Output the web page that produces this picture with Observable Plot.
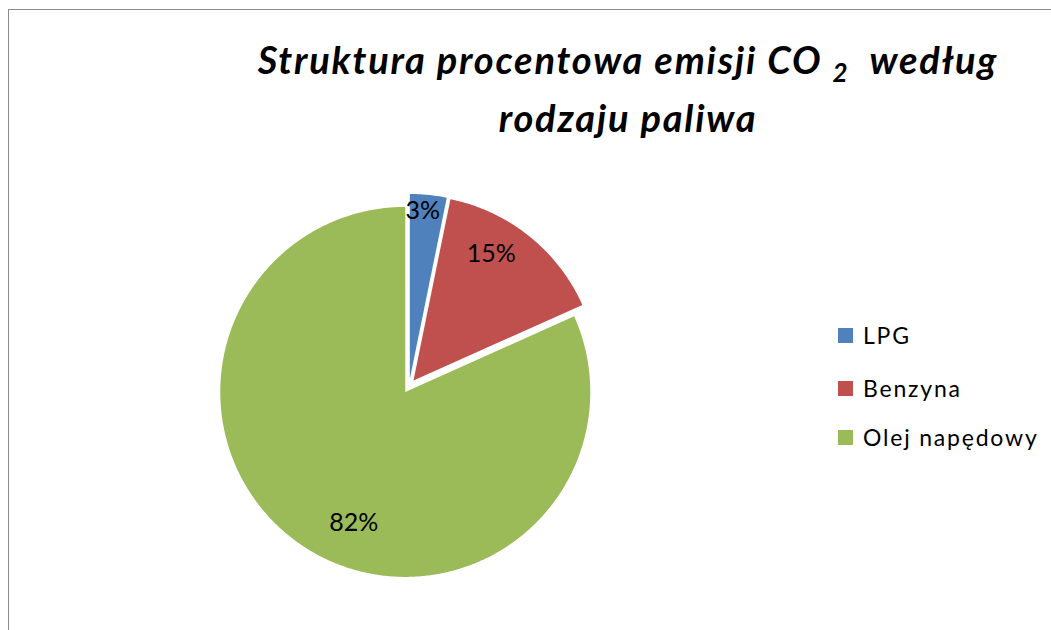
<!DOCTYPE html>
<html>
<head>
<meta charset="utf-8">
<script src="https://cdn.jsdelivr.net/npm/d3@7"></script>
<script src="https://cdn.jsdelivr.net/npm/@observablehq/plot@0.6"></script>
<style>
  body { margin: 0; background: #fff; }
  #chart { position: relative; width: 1051px; height: 630px; overflow: hidden; font-family: Lato, "Open Sans", sans-serif; background: #fff; }
  #frame { position: absolute; left: 8px; top: 9px; right: -5px; bottom: -5px; border-left: 1px solid #8c8c8c; border-top: 1px solid #8c8c8c; pointer-events: none; }
  #plot { position: absolute; left: 0; top: 0; }
  #title { position: absolute; left: 228px; width: 800px; top: 30px; text-align: center; font-weight: bold; font-style: italic; font-size: 38px; letter-spacing: 1.8px; line-height: 58px; color: #000; white-space: nowrap; }
  #title sub { font-size: 26px; vertical-align: -8px; line-height: 0; }
  .row { position: absolute; left: 838px; display: flex; align-items: center; height: 26px; font-size: 23px; letter-spacing: 1.8px; color: #000; white-space: nowrap; }
  .sw { width: 15px; height: 15px; margin-right: 10px; display: inline-block; }
</style>
</head>
<body>
<div id="chart">
  <div id="plot"></div>
  <div id="frame"></div>
  <div id="title">Struktura procentowa emisji CO <sub>2</sub>&nbsp; według<br>rodzaju paliwa</div>
  <div id="legend"></div>
</div>
<script>
// ---- data ----
const categories = ["LPG", "Benzyna", "Olej napędowy"];
const shares = [3.2, 15.1, 81.7];          // percent shares
const labels = ["3%", "15%", "82%"];       // data labels as printed
const colors = ["#4F81BD", "#C0504D", "#9BBB59"];

// ---- layout (not data) ----
const cx = 408.6, cy = 385.5, r = 185;
const explode = 0.038;
const labelPlace = [ {rf: 0.947, da: -1.3}, {rf: 0.839, da: -6.7}, {rf: 0.80, da: -11} ];
const legendTops = [322, 375, 424];

const rows = categories.map((c, i) => ({key: c, value: shares[i], label: labels[i]}));
const arcs = d3.pie().sort(null).value(d => d.value)(rows);

const pts = [];
const labelData = [];
arcs.forEach((s, i) => {
  const mid = (s.startAngle + s.endAngle) / 2;
  const ox = explode * Math.sin(mid), oy = explode * Math.cos(mid);
  pts.push({key: s.data.key, x: ox, y: oy});
  const n = Math.max(2, Math.ceil((s.endAngle - s.startAngle) / (Math.PI / 360)));
  for (let k = 0; k <= n; k++) {
    const a = s.startAngle + (s.endAngle - s.startAngle) * k / n;
    pts.push({key: s.data.key, x: ox + Math.sin(a), y: oy + Math.cos(a)});
  }
  const la = mid + labelPlace[i].da * Math.PI / 180;
  labelData.push({text: s.data.label, x: labelPlace[i].rf * Math.sin(la), y: labelPlace[i].rf * Math.cos(la)});
});

const chart = Plot.plot({
  width: 1051,
  height: 630,
  margin: 0,
  style: {fontFamily: "Lato, 'Open Sans', sans-serif", background: "transparent"},
  x: {domain: [-1, 1], range: [cx - r, cx + r], axis: null},
  y: {domain: [-1, 1], range: [cy + r, cy - r], axis: null},
  color: {domain: categories, range: colors},
  marks: [
    Plot.line(pts, {x: "x", y: "y", z: "key", fill: "key", stroke: "none", curve: "linear-closed"}),
    Plot.text(labelData, {x: "x", y: "y", text: "text", fontSize: 25, fill: "#000"})
  ]
});
document.getElementById("plot").appendChild(chart);

const colorScale = chart.scale("color");
const legend = document.getElementById("legend");
categories.forEach((c, i) => {
  const row = document.createElement("div");
  row.className = "row";
  row.style.top = legendTops[i] + "px";
  const sw = document.createElement("span");
  sw.className = "sw";
  sw.style.background = colorScale.apply(c);
  const t = document.createElement("span");
  t.textContent = c;
  row.appendChild(sw);
  row.appendChild(t);
  legend.appendChild(row);
});
</script>
</body>
</html>
